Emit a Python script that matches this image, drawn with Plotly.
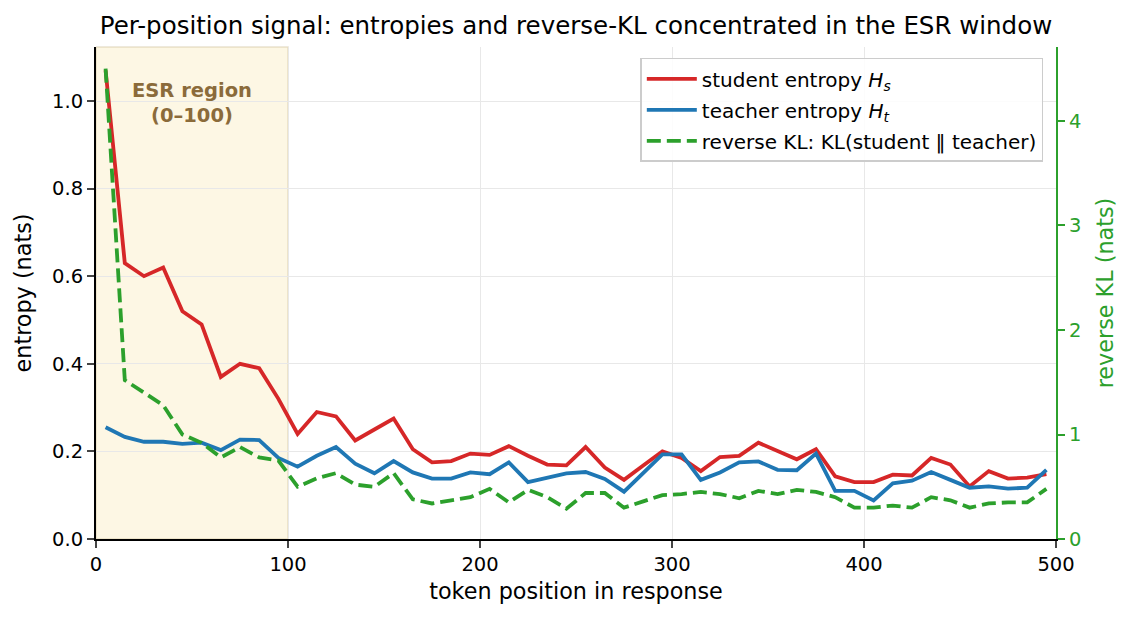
import plotly.graph_objects as go

# token positions (bin centres)
positions = [5, 15, 25, 35, 45, 55, 65, 75, 85, 95,
             105, 115, 125, 135, 145, 155, 165, 175, 185, 195,
             205, 215, 225, 235, 245, 255, 265, 275, 285, 295,
             305, 315, 325, 335, 345, 355, 365, 375, 385, 395,
             405, 415, 425, 435, 445, 455, 465, 475, 485, 495]

student_entropy = [1.07, 0.63, 0.60, 0.62, 0.52, 0.49, 0.37, 0.40, 0.39, 0.32,
                   0.24, 0.29, 0.28, 0.225, 0.25, 0.275, 0.205, 0.175, 0.178, 0.195,
                   0.192, 0.212, 0.19, 0.17, 0.168, 0.21, 0.163, 0.135, 0.168, 0.20,
                   0.185, 0.155, 0.187, 0.19, 0.22, 0.20, 0.182, 0.205, 0.143, 0.13,
                   0.13, 0.147, 0.145, 0.185, 0.17, 0.12, 0.155, 0.138, 0.14, 0.148]

teacher_entropy = [0.255, 0.233, 0.222, 0.222, 0.217, 0.22, 0.203, 0.227, 0.226, 0.185,
                   0.165, 0.19, 0.21, 0.172, 0.15, 0.178, 0.152, 0.138, 0.138, 0.152,
                   0.148, 0.175, 0.13, 0.14, 0.15, 0.153, 0.137, 0.108, 0.15, 0.193,
                   0.193, 0.135, 0.152, 0.175, 0.177, 0.158, 0.157, 0.195, 0.11, 0.11,
                   0.088, 0.127, 0.133, 0.153, 0.135, 0.117, 0.12, 0.115, 0.117, 0.158]

reverse_kl = [4.5, 1.52, 1.40, 1.28, 1.0, 0.92, 0.78, 0.88, 0.78, 0.75,
              0.50, 0.58, 0.63, 0.52, 0.50, 0.63, 0.38, 0.34, 0.37, 0.40,
              0.48, 0.35, 0.47, 0.40, 0.29, 0.44, 0.44, 0.30, 0.36, 0.42,
              0.43, 0.45, 0.43, 0.39, 0.46, 0.43, 0.47, 0.45, 0.40, 0.30,
              0.30, 0.32, 0.30, 0.40, 0.37, 0.30, 0.34, 0.35, 0.35, 0.48]

esr_start, esr_end = 0, 100

FONT = "DejaVu Sans"
GREEN = "#2ca02c"
AXIS_TITLE_SIZE = 22.3

fig = go.Figure()

fig.add_trace(go.Scatter(
    x=positions, y=student_entropy, mode="lines", legendgroup="s",
    name="student entropy <i>H<sub>s</sub></i>",
    line=dict(color="#d62728", width=3.8)
))
fig.add_trace(go.Scatter(
    x=positions, y=teacher_entropy, mode="lines", legendgroup="t",
    name="teacher entropy <i>H<sub>t</sub></i>",
    line=dict(color="#1f77b4", width=3.8)
))
fig.add_trace(go.Scatter(
    x=positions, y=reverse_kl, mode="lines", yaxis="y2", legendgroup="kl",
    name="reverse KL: KL(student \u2016 teacher)",
    line=dict(color=GREEN, width=3.8, dash="14px,6px")
))

# ESR window shading
fig.add_shape(type="rect", xref="x", yref="paper",
              x0=esr_start, x1=esr_end, y0=0, y1=1,
              fillcolor="#fdf7e4", line=dict(color="rgba(205,190,150,0.45)", width=1.5),
              layer="below")
fig.add_annotation(x=(esr_start + esr_end) / 2, y=0.995, xref="x", yref="y",
                   text="<b>ESR region<br>(0\u2013100)</b>", showarrow=False,
                   font=dict(family=FONT, size=19.5, color="#8b6b3a"),
                   yanchor="middle")

fig.update_layout(
    width=1131, height=619,
    margin=dict(l=88, r=83, t=39, b=88),
    plot_bgcolor="rgba(0,0,0,0)",
    paper_bgcolor="white",
    font=dict(family=FONT, size=19.5, color="black"),
    title=dict(text="Per-position signal: entropies and reverse-KL concentrated in the ESR window",
               x=0.5, xanchor="center", xref="paper", y=0.972, yanchor="middle",
               font=dict(family=FONT, size=24.5)),
    xaxis=dict(
        range=[0, 500], tickvals=[0, 100, 200, 300, 400, 500],
        title=dict(text="token position in response", standoff=8,
                   font=dict(size=AXIS_TITLE_SIZE)),
        showline=True, linecolor="black", linewidth=2,
        ticks="outside", ticklen=7, tickwidth=1.5,
        showgrid=True, gridcolor="#e8e8e8", gridwidth=1.2, zeroline=False
    ),
    yaxis=dict(
        range=[0, 1.1233], tickvals=[0, 0.2, 0.4, 0.6, 0.8, 1.0],
        tickformat=".1f",
        title=dict(text="entropy (nats)", standoff=14,
                   font=dict(size=AXIS_TITLE_SIZE)),
        showline=True, linecolor="black", linewidth=2,
        ticks="outside", ticklen=7, tickwidth=1.5,
        showgrid=True, gridcolor="#e8e8e8", gridwidth=1.2, zeroline=False
    ),
    yaxis2=dict(
        overlaying="y", side="right", anchor="x",
        range=[0, 4.708], tickvals=[0, 1, 2, 3, 4],
        title=dict(text="reverse KL (nats)", standoff=17,
                   font=dict(color=GREEN, size=AXIS_TITLE_SIZE)),
        tickfont=dict(color=GREEN),
        showline=True, linecolor=GREEN, linewidth=2,
        ticks="outside", ticklen=7, tickwidth=1.5, tickcolor=GREEN,
        showgrid=False, zeroline=False
    ),
    legend=dict(
        x=0.567, y=0.978, xanchor="left", yanchor="top",
        bgcolor="rgba(255,255,255,0.85)", bordercolor="#cccccc", borderwidth=1.5,
        font=dict(family=FONT, size=20), tracegroupgap=2, itemwidth=50
    ),
)

fig.write_html("out.html")
